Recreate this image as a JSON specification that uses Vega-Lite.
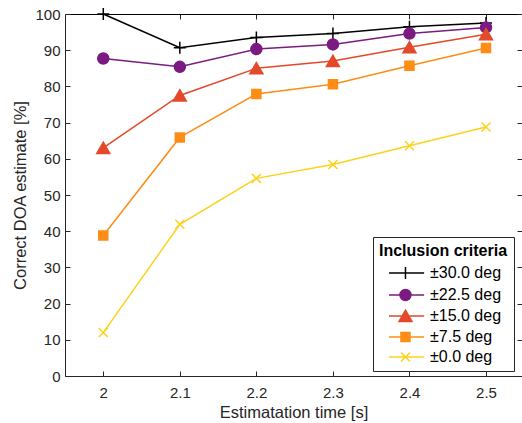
{
  "$schema": "https://vega.github.io/schema/vega-lite/v6.json",
  "width": 457,
  "height": 362,
  "autosize": {"type": "none"},
  "padding": {"left": 65, "top": 14, "right": 0, "bottom": 47},
  "background": "white",
  "config": {
    "font": "Liberation Sans",
    "view": {"stroke": null},
    "axis": {"grid": false, "domainColor": "#262626", "tickColor": "#262626", "labelColor": "#262626", "titleColor": "#262626", "labelFontSize": 15, "titleFontSize": 16.5, "titleFontWeight": "normal", "tickSize": -5, "domainWidth": 1, "tickWidth": 1}
  },
  "data": {
    "values": [
      {"t": 2.0, "crit": "±30.0 deg", "v": 100},
      {"t": 2.1, "crit": "±30.0 deg", "v": 90.7},
      {"t": 2.2, "crit": "±30.0 deg", "v": 93.5},
      {"t": 2.3, "crit": "±30.0 deg", "v": 94.6},
      {"t": 2.4, "crit": "±30.0 deg", "v": 96.5},
      {"t": 2.5, "crit": "±30.0 deg", "v": 97.5},
      {"t": 2.0, "crit": "±22.5 deg", "v": 87.7},
      {"t": 2.1, "crit": "±22.5 deg", "v": 85.4},
      {"t": 2.2, "crit": "±22.5 deg", "v": 90.3},
      {"t": 2.3, "crit": "±22.5 deg", "v": 91.6},
      {"t": 2.4, "crit": "±22.5 deg", "v": 94.6},
      {"t": 2.5, "crit": "±22.5 deg", "v": 96.3},
      {"t": 2.0, "crit": "±15.0 deg", "v": 63.0},
      {"t": 2.1, "crit": "±15.0 deg", "v": 77.5},
      {"t": 2.2, "crit": "±15.0 deg", "v": 85.0},
      {"t": 2.3, "crit": "±15.0 deg", "v": 87.0},
      {"t": 2.4, "crit": "±15.0 deg", "v": 90.8},
      {"t": 2.5, "crit": "±15.0 deg", "v": 94.4},
      {"t": 2.0, "crit": "±7.5 deg", "v": 38.8},
      {"t": 2.1, "crit": "±7.5 deg", "v": 65.9},
      {"t": 2.2, "crit": "±7.5 deg", "v": 77.9},
      {"t": 2.3, "crit": "±7.5 deg", "v": 80.6},
      {"t": 2.4, "crit": "±7.5 deg", "v": 85.7},
      {"t": 2.5, "crit": "±7.5 deg", "v": 90.6},
      {"t": 2.0, "crit": "±0.0 deg", "v": 12.0},
      {"t": 2.1, "crit": "±0.0 deg", "v": 41.9},
      {"t": 2.2, "crit": "±0.0 deg", "v": 54.6},
      {"t": 2.3, "crit": "±0.0 deg", "v": 58.4},
      {"t": 2.4, "crit": "±0.0 deg", "v": 63.6},
      {"t": 2.5, "crit": "±0.0 deg", "v": 68.8}
    ]
  },
  "resolve": {"axis": {"x": "independent", "y": "independent"}, "scale": {"shape": "independent", "color": "independent", "stroke": "independent"}},
  "layer": [
    {
      "mark": {"type": "line", "strokeWidth": 1.5},
      "encoding": {
        "x": {"field": "t", "type": "quantitative", "scale": {"domain": [1.95, 2.547], "nice": false, "zero": false},
              "axis": {"orient": "bottom", "values": [2, 2.1, 2.2, 2.3, 2.4, 2.5], "format": "~g", "labelPadding": 14, "title": "Estimatation time [s]", "titlePadding": 4}},
        "y": {"field": "v", "type": "quantitative", "scale": {"domain": [0, 100], "nice": false},
              "axis": {"orient": "left", "values": [0, 10, 20, 30, 40, 50, 60, 70, 80, 90, 100], "labelPadding": 10, "title": "Correct DOA estimate [%]", "titlePadding": 6}},
        "color": {"field": "crit", "type": "nominal",
                  "scale": {"domain": ["±30.0 deg", "±22.5 deg", "±15.0 deg", "±7.5 deg", "±0.0 deg"], "range": ["#000000", "#7b1b81", "#e3492a", "#fd8d15", "#fcd21c"]},
                  "legend": null}
      }
    },
    {
      "mark": {"type": "point", "filled": true, "size": 100, "strokeWidth": 1.5, "opacity": 1},
      "encoding": {
        "x": {"field": "t", "type": "quantitative", "scale": {"domain": [1.95, 2.547], "nice": false, "zero": false},
              "axis": {"orient": "top", "values": [2, 2.1, 2.2, 2.3, 2.4, 2.5], "labels": false, "title": null, "domainColor": "#000000"}},
        "y": {"field": "v", "type": "quantitative", "scale": {"domain": [0, 100], "nice": false},
              "axis": {"orient": "right", "values": [0, 10, 20, 30, 40, 50, 60, 70, 80, 90, 100], "labels": false, "title": null}},
        "color": {"field": "crit", "type": "nominal",
                  "scale": {"domain": ["±30.0 deg", "±22.5 deg", "±15.0 deg", "±7.5 deg", "±0.0 deg"], "range": ["#000000", "#7b1b81", "#e3492a", "#fd8d15", "#fcd21c"]},
                  "legend": null},
        "stroke": {"field": "crit", "type": "nominal",
                   "scale": {"domain": ["±30.0 deg", "±22.5 deg", "±15.0 deg", "±7.5 deg", "±0.0 deg"], "range": ["#000000", "#7b1b81", "#e3492a", "#fd8d15", "#fcd21c"]},
                   "legend": null},
        "shape": {"field": "crit", "type": "nominal",
                  "scale": {"domain": ["±30.0 deg", "±22.5 deg", "±15.0 deg", "±7.5 deg", "±0.0 deg"],
                            "range": ["M-1.2,0H1.2M0,-1.2V1.2", "M1.1,0A1.1,1.1,0,1,1,-1.1,0A1.1,1.1,0,1,1,1.1,0Z", "M0,-1.15L1.3,1.1L-1.3,1.1Z", "M-0.9,-0.9H0.9V0.9H-0.9Z", "M-0.9,-0.9L0.9,0.9M-0.9,0.9L0.9,-0.9"]},
                  "legend": null}
      }
    },
    {
      "transform": [{"filter": "false"}],
      "mark": {"type": "point", "filled": true, "size": 324, "strokeWidth": 1.5, "opacity": 1},
      "encoding": {
        "x": {"field": "t", "type": "quantitative", "axis": null},
        "y": {"field": "v", "type": "quantitative", "axis": null},
        "color": {"field": "crit", "type": "nominal",
                  "scale": {"domain": ["±30.0 deg", "±22.5 deg", "±15.0 deg", "±7.5 deg", "±0.0 deg"], "range": ["#000000", "#7b1b81", "#e3492a", "#fd8d15", "#fcd21c"]},
                  "legend": {
                    "title": "Inclusion criteria", "orient": "none", "legendX": 308, "legendY": 223,
                    "strokeColor": "#262626", "fillColor": "white", "padding": 6,
                    "titleFontSize": 16, "titleFontWeight": "bold", "titleColor": "#000000", "titlePadding": 4,
                    "labelFontSize": 16, "labelColor": "#000000", "labelOffset": 31,
                    "symbolSize": 324, "rowPadding": 2, "symbolStrokeWidth": 1.5, "symbolOpacity": 1
                  }},
        "stroke": {"field": "crit", "type": "nominal",
                   "scale": {"domain": ["±30.0 deg", "±22.5 deg", "±15.0 deg", "±7.5 deg", "±0.0 deg"], "range": ["#000000", "#7b1b81", "#e3492a", "#fd8d15", "#fcd21c"]}},
        "shape": {"field": "crit", "type": "nominal",
                  "scale": {"domain": ["±30.0 deg", "±22.5 deg", "±15.0 deg", "±7.5 deg", "±0.0 deg"],
                            "range": ["M0,0H3.9M1.83,-0.67V0.67", "M0,0H3.9M2.44,0A0.61,0.61,0,1,1,1.22,0A0.61,0.61,0,1,1,2.44,0Z", "M0,0H3.9M1.83,-0.64L2.55,0.61L1.11,0.61Z", "M0,0H3.9M1.33,-0.5H2.33V0.5H1.33Z", "M0,0H3.9M1.33,-0.5L2.33,0.5M1.33,0.5L2.33,-0.5"]}}
      }
    }
  ]
}
